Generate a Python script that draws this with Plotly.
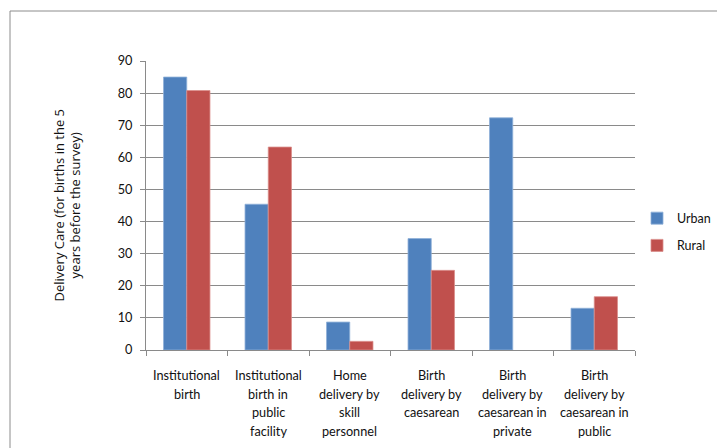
import plotly.graph_objects as go

categories = [
    "Institutional birth",
    "Institutional birth in public facility",
    "Home delivery by skill personnel",
    "Birth delivery by caesarean",
    "Birth delivery by caesarean in private",
    "Birth delivery by caesarean in public",
]
label_lines = [
    ["Institutional", "birth"],
    ["Institutional", "birth in", "public", "facility"],
    ["Home", "delivery by", "skill", "personnel"],
    ["Birth", "delivery by", "caesarean"],
    ["Birth", "delivery by", "caesarean in", "private"],
    ["Birth", "delivery by", "caesarean in", "public"],
]
urban = [85.0, 45.4, 8.7, 34.7, 72.3, 13.0]
rural = [80.8, 63.2, 2.7, 24.8, None, 16.6]
y_ticks = [0, 10, 20, 30, 40, 50, 60, 70, 80, 90]

BLUE = "#4F81BD"
RED = "#C0504D"
GRID = "#8A8A8A"
FONT = "Lato"
TXT = "#111111"

fig = go.Figure()
fig.add_trace(go.Bar(
    x=categories, y=urban, name="Urban", legendgroup="u",
    marker=dict(color=BLUE, line=dict(color="#8FB0D8", width=0.8)),
))
fig.add_trace(go.Bar(
    x=categories, y=rural, name="Rural", legendgroup="r",
    marker=dict(color=RED, line=dict(color="#DA8E8C", width=0.8)),
))

W, H = 717, 448
L, R, T, B = 146, 82, 61, 98
plot_w = W - L - R
plot_h = H - T - B

# multi-line category labels below the axis
for cat, lines in zip(categories, label_lines):
    for i, txt in enumerate(lines):
        py = 375 + i * 18.7
        fig.add_annotation(
            x=cat, xref="x", y=(H - B - py) / plot_h, yref="paper",
            text=txt, showarrow=False, yanchor="middle", xanchor="center",
            font=dict(family=FONT, size=12.7, color=TXT),
        )

# y-axis title
fig.add_annotation(
    x=(67 - L) / plot_w, xref="paper", y=0.5, yref="paper",
    text="Delivery Care (for births in the 5<br>years before the survey)",
    textangle=-90, showarrow=False, xanchor="center", yanchor="middle",
    font=dict(family="Open Sans", size=13, color=TXT),
)

# outer chart frame
fig.add_shape(
    type="rect", xref="paper", yref="paper",
    x0=(10 - L) / plot_w, x1=1.5,
    y0=-1.0, y1=(H - B - 11) / plot_h,
    line=dict(color="#8C8C8C", width=1), fillcolor="rgba(0,0,0,0)", layer="below",
)

fig.update_layout(
    width=W, height=H,
    margin=dict(l=L, r=R, t=T, b=B, autoexpand=False),
    paper_bgcolor="white", plot_bgcolor="white",
    barmode="group", bargap=0.43, bargroupgap=0,
    font=dict(family=FONT, size=12.7, color=TXT),
    showlegend=True,
    legend=dict(
        x=(637 - L) / plot_w, xanchor="left",
        y=(H - B - 232) / plot_h, yanchor="middle",
        tracegroupgap=8, itemwidth=30,
        font=dict(family=FONT, size=12.5, color=TXT),
        bgcolor="rgba(0,0,0,0)",
    ),
    xaxis=dict(
        type="category", showticklabels=False,
        showline=True, linecolor=GRID, linewidth=1,
        ticks="outside", tickson="boundaries", ticklen=5, tickcolor=GRID,
        showgrid=False, zeroline=False,
    ),
    yaxis=dict(
        range=[0, 90], tickvals=y_ticks,
        showline=True, linecolor=GRID, linewidth=1,
        ticks="outside", ticklen=5, tickcolor=GRID,
        ticklabelstandoff=5,
        showgrid=True, gridcolor=GRID, gridwidth=1,
        zeroline=False,
        tickfont=dict(family=FONT, size=12.7, color=TXT),
    ),
)

fig.write_html("out.html")
